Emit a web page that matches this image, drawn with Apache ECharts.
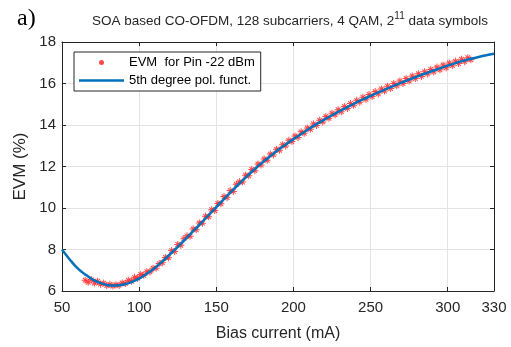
<!DOCTYPE html>
<html>
<head>
<meta charset="utf-8">
<script src="https://cdn.jsdelivr.net/npm/echarts@6/dist/echarts.min.js"></script>
<style>
  html, body { margin: 0; padding: 0; background: #fff; }
  #chart { width: 511px; height: 347px; }
</style>
</head>
<body>
<div id="chart"></div>
<script>
// Measured EVM vs. bias current (Pin = -22 dBm)
const biasMeasured = [
  65, 67, 69, 71, 73, 75, 77, 79, 81, 83, 85, 87, 89, 91, 93, 95, 97, 99,
  101, 103, 105, 107, 109, 111, 113, 115, 117, 119, 121, 123, 125, 127, 129,
  131, 133, 135, 137, 139, 141, 143, 145, 147, 149, 151, 153, 155, 157, 159,
  161, 163, 165, 167, 169, 171, 173, 175, 177, 179, 181, 183, 185, 187, 189,
  191, 193, 195, 197, 199, 201, 203, 205, 207, 209, 211, 213, 215, 217, 219,
  221, 223, 225, 227, 229, 231, 233, 235, 237, 239, 241, 243, 245, 247, 249,
  251, 253, 255, 257, 259, 261, 263, 265, 267, 269, 271, 273, 275, 277, 279,
  281, 283, 285, 287, 289, 291, 293, 295, 297, 299, 301, 303, 305, 307, 309,
  311, 313, 315
];
const evmMeasured = [
  6.52, 6.42, 6.55, 6.38, 6.47, 6.33, 6.38, 6.26, 6.32, 6.24, 6.30, 6.27, 6.39, 6.36, 6.52, 6.47, 6.66, 6.62,
  6.80, 6.76, 6.93, 6.92, 7.10, 7.10, 7.32, 7.36, 7.62, 7.60, 7.95, 7.90, 8.24, 8.20, 8.52,
  8.66, 8.64, 8.99, 8.95, 9.28, 9.27, 9.60, 9.58, 9.92, 9.88, 10.22, 10.20, 10.55, 10.50, 10.84,
  10.80, 11.14, 11.26, 11.25, 11.58, 11.55, 11.86, 11.80, 12.12, 12.07, 12.36, 12.30, 12.60, 12.56, 12.83,
  12.78, 13.05, 12.99, 13.26, 13.20, 13.47, 13.40, 13.67, 13.60, 13.86, 13.79, 14.05, 13.98, 14.23, 14.15,
  14.41, 14.32, 14.57, 14.49, 14.74, 14.64, 14.89, 14.80, 15.04, 14.95, 15.19, 15.10, 15.34, 15.24, 15.47,
  15.37, 15.61, 15.50, 15.74, 15.64, 15.87, 15.76, 16.00, 15.89, 16.12, 16.00, 16.24, 16.12, 16.36, 16.24,
  16.47, 16.34, 16.57, 16.46, 16.68, 16.56, 16.79, 16.66, 16.89, 16.76, 16.99, 16.86, 17.08, 16.96, 17.17,
  17.05, 17.24, 17.14
];

// 5th degree polynomial fit, sampled every 5 mA
const biasFit = [
  50, 55, 60, 65, 70, 75, 80, 85, 90, 95, 100, 105, 110, 115, 120, 125, 130,
  135, 140, 145, 150, 155, 160, 165, 170, 175, 180, 185, 190, 195, 200, 205,
  210, 215, 220, 225, 230, 235, 240, 245, 250, 255, 260, 265, 270, 275, 280,
  285, 290, 295, 300, 305, 310, 315, 320, 325, 330
];
const evmFit = [
  8.00, 7.52, 7.10, 6.80, 6.55, 6.38, 6.28, 6.26, 6.31, 6.43, 6.60, 6.83, 7.10, 7.42, 7.77, 8.13, 8.50,
  8.88, 9.26, 9.65, 10.04, 10.43, 10.81, 11.18, 11.54, 11.88, 12.20, 12.50, 12.79, 13.06, 13.32, 13.57,
  13.81, 14.04, 14.26, 14.47, 14.67, 14.86, 15.05, 15.23, 15.40, 15.57, 15.73, 15.89, 16.04, 16.19, 16.33,
  16.47, 16.60, 16.73, 16.86, 16.98, 17.09, 17.19, 17.28, 17.36, 17.43
];

const seriesNames = ['EVM  for Pin -22 dBm', '5th degree pol. funct.'];

const FONT = '"Liberation Sans", Arial, Helvetica, sans-serif';
const INK = '#262626';
const GRID = '#e3e3e3';

// asterisk marker: horizontal, vertical and two diagonal strokes
const ASTERISK = 'path://M0,4.3H10V5.7H0Z M4.3,0H5.7V10H4.3Z M1.2,2.2L2.2,1.2L8.8,7.8L7.8,8.8Z M7.8,1.2L8.8,2.2L2.2,8.8L1.2,7.8Z';

const pair = (xs, ys) => xs.map((x, i) => [x, ys[i]]);

const chart = echarts.init(document.getElementById('chart'), null, { renderer: 'canvas' });

const boxAxis = {
  axisLine: { show: true, lineStyle: { color: INK, width: 1 } },
  axisTick: { show: true, inside: true, length: 4, lineStyle: { color: INK } },
  axisLabel: { show: false },
  splitLine: { show: false }
};

chart.setOption({
  animation: false,
  backgroundColor: '#fff',
  title: [
    {
      text: 'a)',
      left: 12,
      top: 2,
      textStyle: { fontFamily: '"Liberation Serif", "Times New Roman", serif', fontSize: 24, fontWeight: 'normal', color: '#000' }
    },
    {
      text: '{t|SOA based CO-OFDM, 128 subcarriers, 4 QAM, 2}{s|11}{t| data symbols}',
      left: 87,
      top: 6,
      textStyle: {
        fontWeight: 'normal',
        rich: {
          t: { fontFamily: FONT, fontSize: 13.5, fontWeight: 'normal', color: INK, verticalAlign: 'bottom', lineHeight: 17 },
          s: { fontFamily: FONT, fontSize: 10, fontWeight: 'normal', color: INK, verticalAlign: 'top', padding: [0, 0, 6, 0], lineHeight: 17 }
        }
      }
    }
  ],
  legend: {
    left: 74,
    top: 52,
    orient: 'vertical',
    itemWidth: 45,
    itemHeight: 5,
    itemGap: 5,
    padding: [4, 6, 4, 5],
    backgroundColor: '#fff',
    borderColor: INK,
    borderWidth: 1,
    borderRadius: 0,
    textStyle: { fontFamily: FONT, fontSize: 13, color: '#000' },
    data: [
      { name: seriesNames[0], icon: 'circle' },
      { name: seriesNames[1], icon: 'path://M0,0H45V2.5H0Z' }
    ]
  },
  grid: { left: 62, right: 17, top: 42, bottom: 55, containLabel: false },
  xAxis: [
    {
      type: 'value',
      min: 50,
      max: 330,
      interval: 50,
      name: 'Bias current (mA)',
      nameLocation: 'middle',
      nameGap: 35,
      nameTextStyle: { fontFamily: FONT, fontSize: 16, color: INK },
      axisLine: { show: true, lineStyle: { color: INK, width: 1 } },
      axisTick: { show: true, inside: true, length: 4, lineStyle: { color: INK } },
      axisLabel: { fontFamily: FONT, fontSize: 15, color: INK, margin: 9, showMaxLabel: true, showMinLabel: true },
      splitLine: { show: true, lineStyle: { color: GRID, width: 1 } }
    },
    Object.assign({ type: 'value', min: 50, max: 330, interval: 50, position: 'top' }, boxAxis)
  ],
  yAxis: [
    {
      type: 'value',
      min: 6,
      max: 18,
      interval: 2,
      name: 'EVM (%)',
      nameLocation: 'middle',
      nameGap: 30,
      nameTextStyle: { fontFamily: FONT, fontSize: 17, color: INK },
      axisLine: { show: true, lineStyle: { color: INK, width: 1 } },
      axisTick: { show: true, inside: true, length: 4, lineStyle: { color: INK } },
      axisLabel: { fontFamily: FONT, fontSize: 15, color: INK, margin: 6 },
      splitLine: { show: true, lineStyle: { color: GRID, width: 1 } }
    },
    Object.assign({ type: 'value', min: 6, max: 18, interval: 2, position: 'right' }, boxAxis)
  ],
  series: [
    {
      name: seriesNames[0],
      type: 'scatter',
      xAxisIndex: 0,
      yAxisIndex: 0,
      symbol: ASTERISK,
      symbolSize: 7,
      itemStyle: { color: '#ff1a1a' },
      data: pair(biasMeasured, evmMeasured),
      z: 2
    },
    {
      name: seriesNames[1],
      type: 'line',
      xAxisIndex: 0,
      yAxisIndex: 0,
      smooth: 0.4,
      symbol: 'none',
      showSymbol: false,
      lineStyle: { color: '#0072bd', width: 2.5 },
      itemStyle: { color: '#0072bd' },
      data: pair(biasFit, evmFit),
      z: 3
    }
  ]
});
</script>
</body>
</html>
